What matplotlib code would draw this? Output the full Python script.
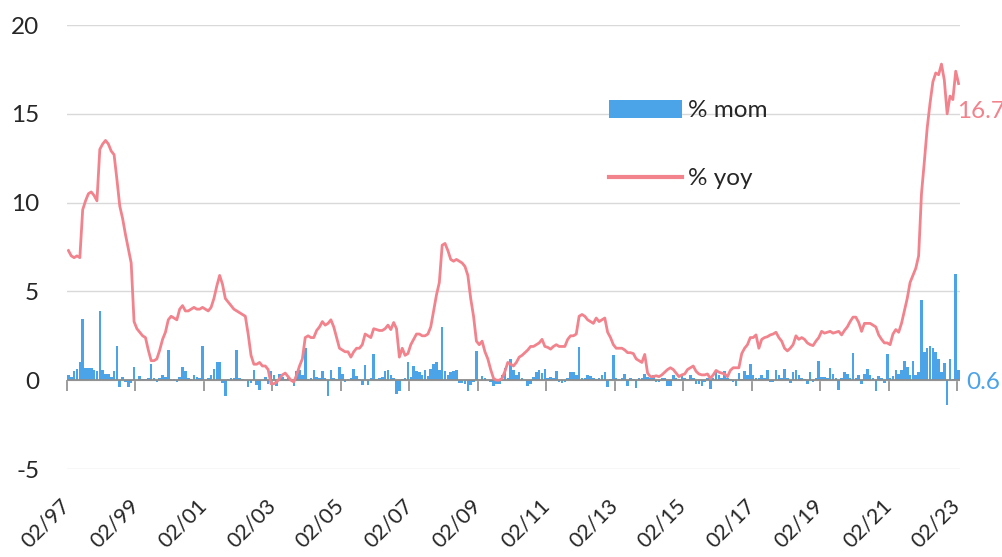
import numpy as np
import matplotlib
matplotlib.use("Agg")
import matplotlib.pyplot as plt
import pandas as pd

# Monthly data, Feb 1997 .. Feb 2023 (each row = Feb..Jan of next year)
yoy = [
    7.3, 7.0, 6.9, 7.0, 6.9, 9.6, 10.1, 10.5, 10.6, 10.4, 10.1, 13.0,
    13.3, 13.5, 13.3, 12.9, 12.7, 11.3, 9.8, 9.1, 8.2, 7.4, 6.6, 3.3,
    2.9, 2.7, 2.5, 2.4, 1.7, 1.1, 1.1, 1.2, 1.7, 2.3, 2.7, 3.4,
    3.6, 3.5, 3.4, 4.0, 4.2, 3.9, 3.9, 4.0, 4.1, 4.0, 4.0, 4.1,
    4.0, 3.9, 4.1, 4.6, 5.3, 5.9, 5.4, 4.6, 4.4, 4.2, 4.0, 3.9,
    3.8, 3.7, 3.6, 2.6, 1.4, 0.9, 0.9, 1.0, 0.8, 0.8, 0.6, -0.2,
    -0.2, -0.1, 0.1, 0.3, 0.4, 0.2, 0.0, -0.1, 0.3, 0.8, 1.2, 2.4,
    2.5, 2.4, 2.4, 2.8, 3.0, 3.3, 3.1, 3.2, 3.4, 3.0, 2.4, 1.8,
    1.7, 1.6, 1.6, 1.3, 1.6, 1.8, 1.8, 2.0, 2.6, 2.5, 2.4, 2.9,
    2.85, 2.8, 2.8, 2.9, 3.1, 2.85, 3.25, 2.9, 1.3, 1.8, 1.4, 1.5,
    2.0, 2.3, 2.6, 2.6, 2.5, 2.5, 2.6, 3.0, 3.9, 4.8, 5.5, 7.6,
    7.7, 7.3, 6.8, 6.7, 6.8, 6.7, 6.6, 6.4, 5.9, 4.6, 3.6, 2.2,
    2.0, 2.2, 1.6, 1.2, 0.6, 0.1, 0.0, 0.0, 0.1, 0.5, 1.0, 0.9,
    0.8, 1.0, 1.3, 1.4, 1.55, 1.7, 1.9, 1.9, 2.0, 2.1, 2.3, 1.9,
    1.85, 1.75, 1.9, 2.0, 1.9, 1.9, 1.9, 2.3, 2.5, 2.5, 2.6, 3.6,
    3.7, 3.6, 3.4, 3.3, 3.2, 3.5, 3.3, 3.4, 3.5, 2.7, 2.4, 2.0,
    1.8, 1.8, 1.8, 1.7, 1.55, 1.55, 1.5, 1.2, 1.1, 1.0, 1.45, 0.4,
    0.2, 0.2, 0.25, 0.2, 0.3, 0.45, 0.6, 0.7, 0.6, 0.4, 0.2, 0.3,
    0.35, 0.6, 0.7, 0.8, 0.5, 0.35, 0.3, 0.3, 0.35, 0.1, 0.3, 0.55,
    0.45, 0.4, 0.35, 0.2, 0.55, 0.7, 0.7, 0.7, 1.5, 1.8, 2.0, 2.4,
    2.4, 2.55, 1.8, 2.3, 2.4, 2.45, 2.55, 2.6, 2.7, 2.4, 2.2, 1.8,
    1.65, 1.8, 2.0, 2.5, 2.3, 2.4, 2.3, 2.1, 2.0, 1.95, 2.2, 2.4,
    2.75, 2.65, 2.7, 2.75, 2.65, 2.7, 2.75, 2.55, 2.8, 3.0, 3.3, 3.55,
    3.55, 3.25, 2.75, 3.2, 3.2, 3.2, 3.1, 3.0, 2.55, 2.3, 2.1, 2.1,
    2.0, 2.6, 2.85, 2.7, 3.2, 3.9, 4.6, 5.5, 5.9, 6.3, 7.0, 10.5,
    12.3, 14.2, 15.6, 16.8, 17.3, 17.2, 17.8, 16.9, 15.0, 16.0, 15.8, 17.4,
    16.7,
]

mom = [
    0.3, 0.2, 0.5, 0.65, 1.0, 3.45, 0.7, 0.7, 0.7, 0.6, 0.5, 3.9,
    0.6, 0.35, 0.35, 0.2, 0.5, 1.95, -0.4, 0.2, -0.1, -0.4, -0.15, 0.75,
    0.0, 0.25, 0.05, 0.05, 0.1, 0.9, 0.15, -0.1, 0.15, 0.3, 0.2, 1.7,
    0.05, 0.05, -0.1, 0.2, 0.75, 0.5, 0.15, 0.05, 0.3, 0.2, 0.15, 1.95,
    0.0, 0.15, 0.3, 0.65, 1.05, 1.05, -0.15, -0.9, 0.05, 0.1, 0.1, 1.7,
    0.1, 0.05, 0.0, -0.4, -0.15, 0.55, -0.25, -0.55, 0.0, 0.2, -0.2, 0.5,
    0.3, -0.3, 0.35, 0.2, 0.05, 0.1, -0.05, -0.35, 0.5, 0.6, 0.3, 1.8,
    0.05, 0.1, 0.55, 0.2, 0.1, 0.5, 0.1, -0.9, 0.55, 0.1, 0.05, 0.75,
    0.35, -0.1, 0.05, 0.1, 0.65, 0.25, 0.05, -0.25, 0.85, -0.25, 0.1, 1.5,
    0.05, 0.1, 0.2, 0.5, 0.55, 0.3, 0.1, -0.8, -0.6, 0.05, 0.1, 1.0,
    0.2, 0.8, 0.5, 0.45, 0.3, 0.55, 0.25, 0.65, 0.9, 1.0, 0.6, 3.0,
    0.5, 0.3, 0.45, 0.5, 0.55, -0.15, -0.15, -0.2, -0.6, -0.25, -0.1, 1.65,
    0.0, 0.25, 0.1, 0.0, -0.1, -0.3, -0.2, -0.2, 0.3, 0.7, 0.1, 1.2,
    0.6, 0.3, 0.45, 0.1, 0.0, -0.3, -0.2, 0.2, 0.45, 0.6, 0.4, 0.65,
    0.1, 0.2, 0.1, 0.5, -0.1, -0.15, -0.1, 0.1, 0.45, 0.45, 0.3, 1.85,
    0.15, 0.1, 0.3, 0.25, 0.1, 0.05, 0.1, 0.3, 0.45, -0.4, 0.05, 1.4,
    0.1, 0.05, 0.1, 0.35, -0.3, 0.1, 0.05, -0.45, 0.1, 0.15, 0.35, 0.2,
    0.1, 0.3, -0.1, -0.1, 0.15, 0.1, -0.35, -0.3, 0.3, 0.1, 0.05, 0.3,
    0.1, 0.05, 0.3, 0.1, -0.2, -0.2, -0.35, -0.1, 0.15, -0.5, 0.1, 0.45,
    0.3, 0.1, 0.5, 0.15, 0.05, -0.1, -0.3, 0.4, 0.05, 0.5, 0.3, 0.9,
    0.3, 0.1, 0.15, 0.3, 0.1, 0.6, -0.1, -0.1, 0.6, 0.3, 0.1, 0.65,
    0.1, -0.15, 0.45, 0.55, 0.3, 0.1, 0.05, -0.2, 0.45, -0.1, 0.1, 1.1,
    0.2, 0.2, 0.1, 0.7, 0.35, 0.1, -0.55, 0.1, 0.45, 0.35, 0.1, 1.55,
    0.1, 0.3, -0.2, 0.35, 0.65, 0.3, 0.1, -0.6, 0.25, 0.1, -0.15, 1.45,
    0.15, 0.25, 0.6, 0.35, 0.55, 1.1, 0.75, 0.3, 1.1, 0.3, 0.45, 4.5,
    1.6, 1.8, 1.9, 1.8, 1.6, 1.2, 0.45, 0.95, -1.4, 1.2, 0.05, 6.0,
    0.6,
]

tick_labels = ["02/97", "02/99", "02/01", "02/03", "02/05", "02/07", "02/09",
               "02/11", "02/13", "02/15", "02/17", "02/19", "02/21", "02/23"]
tick_dates = ["1997-02", "1999-02", "2001-02", "2003-02", "2005-02", "2007-02",
              "2009-02", "2011-02", "2013-02", "2015-02", "2017-02", "2019-02",
              "2021-02", "2023-02"]
series_names = ["% mom", "% yoy"]
yticks = [-5, 0, 5, 10, 15, 20]

dates = pd.date_range("1997-02-01", periods=len(yoy), freq="MS")

BLUE = "#4BA3E8"
PINK = "#F2828C"
GRID = "#D9D9D9"
AXIS = "#8C8C8C"
TXT = "#262626"
FS = 17.5
FSX = 15.5

plt.rcParams["font.family"] = ["Lato", "DejaVu Sans"]

fig = plt.figure(figsize=(10.03, 5.57), dpi=100)
ax = fig.add_axes([67 / 1003, 88 / 557, 893 / 1003, 444 / 557])

x = np.arange(len(dates))
bars = ax.bar(x, mom, width=0.9, color=BLUE, label=series_names[0], zorder=2)
line, = ax.plot(x, yoy, color=PINK, lw=2.0, label=series_names[1], zorder=4)
ax.axhline(0, color=AXIS, lw=1.3, zorder=3)

ax.set_xlim(-0.5, len(dates) - 0.5)
ax.set_ylim(-5, 20)
ax.set_yticks(yticks)
ax.set_yticklabels([str(v) for v in yticks], fontsize=FS, color=TXT)
ax.tick_params(axis="y", length=0, pad=20)
ax.yaxis.grid(True, color=GRID, lw=1.0, zorder=0)
ax.set_axisbelow(True)
for s in ax.spines.values():
    s.set_visible(False)

# category boundary ticks every 24 months, labels at bottom
tick_pos = [dates.get_loc(pd.Timestamp(d + "-01")) - 0.5 for d in tick_dates]
ax.set_xticks(tick_pos)
ax.set_xticklabels(tick_labels, rotation=45, ha="right", va="center",
                   rotation_mode="anchor", fontsize=FSX, color=TXT)
ax.tick_params(axis="x", length=0, pad=24)

# downward tick marks on the zero axis
sec = ax.secondary_xaxis(5 / 25)
sec.set_xticks(tick_pos)
sec.set_xticklabels([])
sec.tick_params(axis="x", direction="out", length=8, width=1.2, color=AXIS)
for s in sec.spines.values():
    s.set_visible(False)

# data labels for last points
ax.annotate("%.1f" % yoy[-1], xy=(x[-1], yoy[-1]), xytext=(-2, -28),
            textcoords="offset pixels", color=PINK, fontsize=FS,
            ha="left", va="center", annotation_clip=False)
ax.annotate("%.1f" % mom[-1], xy=(x[-1], mom[-1]), xytext=(8, -13),
            textcoords="offset pixels", color=BLUE, fontsize=FS,
            ha="left", va="center", annotation_clip=False)

leg = ax.legend(handles=[bars, line], labels=series_names,
                loc="upper left", bbox_to_anchor=(0.607, 0.831), frameon=False,
                fontsize=FS, handlelength=3.0, handleheight=0.73,
                labelspacing=1.93, handletextpad=0.25, borderpad=0,
                borderaxespad=0)
for t in leg.get_texts():
    t.set_color(TXT)
for ln in leg.get_lines():
    ln.set_linewidth(3)

fig.savefig("out.png", dpi=100)
